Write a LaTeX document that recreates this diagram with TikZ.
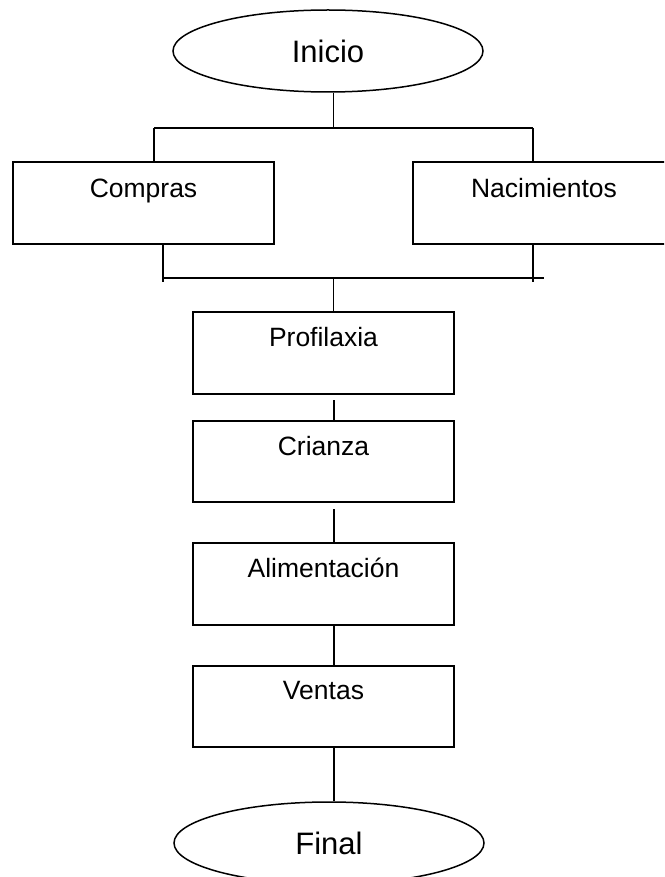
\documentclass[tikz,border=0pt]{standalone}
\usepackage{fontspec}
\setmainfont{Liberation Sans}
\usetikzlibrary{shapes.geometric}
\tikzset{
  ln/.style={line width=1.5pt, black},
  boxnode/.style={draw, line width=1.5pt, rectangle, inner sep=0pt, minimum width=261pt, minimum height=82pt},
  term/.style={draw, line width=1.5pt, ellipse, inner sep=0pt, minimum width=310pt, minimum height=82pt, font=\fontsize{31}{36}\selectfont},
  lbl/.style={anchor=base, inner sep=0pt, font=\fontsize{26.5}{30}\selectfont}
}
\begin{document}
\begin{tikzpicture}[x=1pt, y=-1pt]
\useasboundingbox (0,0) rectangle (664,877);
\clip (0,0) rectangle (664,877);
\fill[white] (0,0) rectangle (664,877);
% terminals
\node[term] (ini) at (328,51) {Inicio};
\node[term] (fin) at (329,843) {Final};
% boxes
\node[boxnode] (comp) at (143.5,203) {};
\node[boxnode, minimum width=262pt] (nac) at (544,203) {};
\node[boxnode] (prof) at (323.5,353) {};
\node[boxnode, minimum height=81pt] (cri) at (323.5,461.5) {};
\node[boxnode] (ali) at (323.5,584) {};
\node[boxnode, minimum height=81pt] (ven) at (323.5,706.5) {};
% labels
\node[lbl] (tcomp) at ([yshift=-36pt]comp.north) {Compras};
\node[lbl] (tnac) at ([yshift=-36pt]nac.north) {Nacimientos};
\node[lbl] (tprof) at ([yshift=-35.5pt]prof.north) {Profilaxia};
\node[lbl] (tcri) at ([yshift=-35.5pt]cri.north) {Crianza};
\node[lbl] (tali) at ([yshift=-35.5pt]ali.north) {Alimentación};
\node[lbl] (tven) at ([yshift=-34.5pt]ven.north) {Ventas};
% junction coordinates
\coordinate (j1) at (333.5,128);
\coordinate (tl) at (154,128);
\coordinate (tr) at (533,128);
\coordinate (bl) at (163,278);
\coordinate (br) at (533,278);
\coordinate (bend) at (544,278);
\coordinate (blx) at (163,282);
\coordinate (brx) at (533,282);
\coordinate (j2) at (333.5,278);
\coordinate (g1) at (334,400);
\coordinate (g2) at (334,509);
% connectors
\draw[ln] (j1 |- ini.south) -- (j1);
\draw[ln] (tl) -- (tr);
\draw[ln] (tl) -- (tl |- comp.north);
\draw[ln] (tr) -- (tr |- nac.north);
\draw[ln] (bl |- comp.south) -- (blx);
\draw[ln] (br |- nac.south) -- (brx);
\draw[ln] (bl) -- (bend);
\draw[ln] (j2) -- (j2 |- prof.north);
\draw[ln] (g1) -- (g1 |- cri.north);
\draw[ln] (g2) -- (g2 |- ali.north);
\draw[ln] (ali.south -| g2) -- (ven.north -| g2);
\draw[ln] (ven.south -| g2) -- (fin.north -| g2);
\end{tikzpicture}
\end{document}
